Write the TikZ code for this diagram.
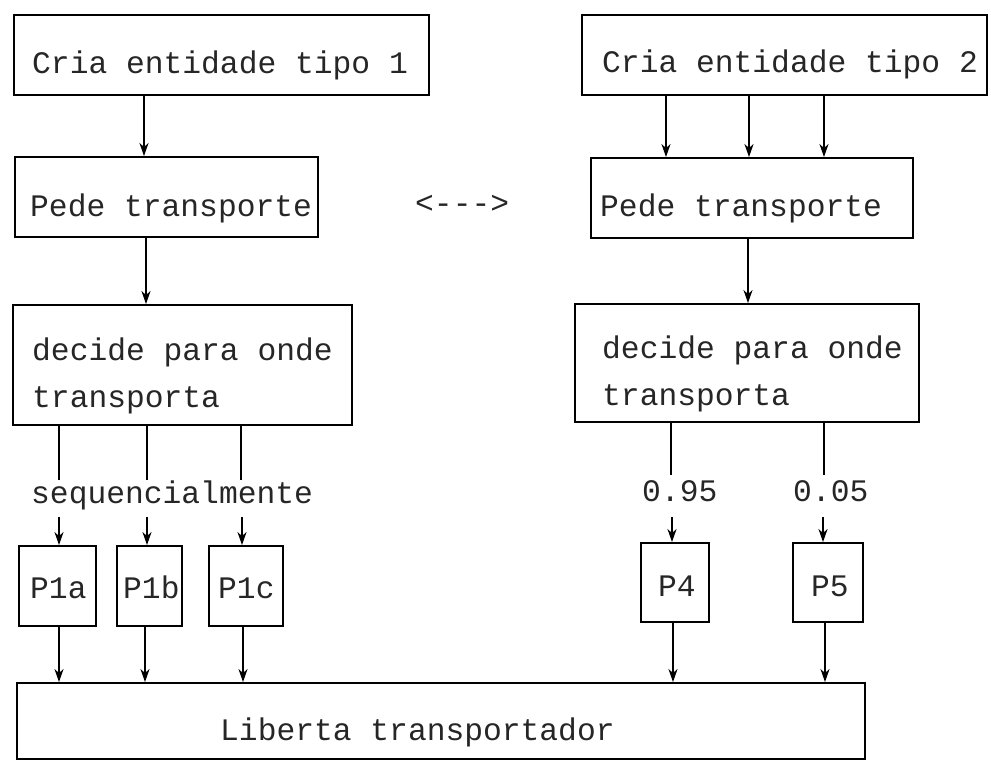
\documentclass[tikz,border=0pt]{standalone}
\usepackage{fontspec}
\newfontfamily\tw{Liberation Mono}
\usetikzlibrary{arrows.meta}
\begin{document}
\begin{tikzpicture}[x=1pt,y=-1pt,
  box/.style 2 args={draw, line width=1.9pt, rectangle, inner sep=0pt, minimum width=#1pt, minimum height=#2pt},
  txt/.style={anchor=base west, inner sep=0pt, font=\tw\fontsize{31.3}{36}\selectfont, text=black!85},
  arr/.style={line width=1.5pt, -{Stealth[length=13pt,width=9pt,inset=4pt]}},
  ln/.style={line width=1.5pt}]
\useasboundingbox (0,0) rectangle (991,761);
% boxes
\node[box={415}{80}] (b1) at (221.5,55) {};
\node[box={405}{80}] (b2) at (784.5,55) {};
\node[box={303}{80}] (pd1) at (166.5,197) {};
\node[box={322}{80}] (pd2) at (752,198) {};
\node[box={339}{120}] (d1) at (182.5,365) {};
\node[box={344}{118}] (d2) at (747,363) {};
\node[box={77}{80}] (p1a) at (57.5,586) {};
\node[box={65}{80}] (p1b) at (149.5,586) {};
\node[box={74}{80}] (p1c) at (246,586) {};
\node[box={68}{79}] (p4) at (675,582.5) {};
\node[box={70}{79}] (p5) at (828,582.5) {};
\node[box={848}{76}] (lib) at (441,721) {};
% texts
\node[txt] (t1) at (32,73) {Cria entidade tipo 1};
\node[txt] (t2) at (602,72) {Cria entidade tipo 2};
\node[txt] (t3) at (30,216) {Pede transporte};
\node[txt] (t4) at (600,216) {Pede transporte};
\node[txt] (t5) at (415,213) {<-{}-{}->};
\node[txt] (t6) at (32,360) {decide para onde};
\node[txt] (t7) at (32,407) {transporta};
\node[txt] (t8) at (602,358) {decide para onde};
\node[txt] (t9) at (602,405) {transporta};
\node[txt] (t10) at (31,503) {sequencialmente};
\node[txt] (t11) at (642,501) {0.95};
\node[txt] (t12) at (793,501) {0.05};
\node[txt] (t13) at (30,598) {P1a};
\node[txt] (t14) at (123,598) {P1b};
\node[txt] (t15) at (218,598) {P1c};
\node[txt] (t16) at (658,596) {P4};
\node[txt] (t17) at (811,596) {P5};
\node[txt] (t18) at (220,740) {Liberta transportador};
% column coordinates
\coordinate (xa) at (144,0);
\coordinate (xb) at (146,0);
\coordinate (xc1) at (666,0);
\coordinate (xc2) at (749,0);
\coordinate (xc3) at (824,0);
\coordinate (xd) at (748,0);
\coordinate (s1) at (59,480);
\coordinate (s2) at (147,480);
\coordinate (s3) at (241,480);
\coordinate (e1) at (59,517);
\coordinate (e2) at (147,517);
\coordinate (e3) at (242,517);
\coordinate (s4) at (671,475);
\coordinate (s5) at (824,475);
\coordinate (e4) at (672,517);
\coordinate (e5) at (823,517);
\coordinate (f1) at (59,0);
\coordinate (f2) at (145,0);
\coordinate (f3) at (243,0);
\coordinate (f4) at (673,0);
\coordinate (f5) at (825,0);
% connectors
\draw[arr] (b1.south -| xa) -- (pd1.north -| xa);
\draw[arr] (b2.south -| xc1) -- (pd2.north -| xc1);
\draw[arr] (b2.south -| xc2) -- (pd2.north -| xc2);
\draw[arr] (b2.south -| xc3) -- (pd2.north -| xc3);
\draw[arr] (pd1.south -| xb) -- (d1.north -| xb);
\draw[arr] (pd2.south -| xd) -- (d2.north -| xd);
\draw[ln] (d1.south -| s1) -- (s1);
\draw[ln] (d1.south -| s2) -- (s2);
\draw[ln] (d1.south -| s3) -- (s3);
\draw[arr] (e1) -- (p1a.north -| e1);
\draw[arr] (e2) -- (p1b.north -| e2);
\draw[arr] (e3) -- (p1c.north -| e3);
\draw[ln] (d2.south -| s4) -- (s4);
\draw[ln] (d2.south -| s5) -- (s5);
\draw[arr] (e4) -- (p4.north -| e4);
\draw[arr] (e5) -- (p5.north -| e5);
\draw[arr] (p1a.south -| f1) -- (lib.north -| f1);
\draw[arr] (p1b.south -| f2) -- (lib.north -| f2);
\draw[arr] (p1c.south -| f3) -- (lib.north -| f3);
\draw[arr] (p4.south -| f4) -- (lib.north -| f4);
\draw[arr] (p5.south -| f5) -- (lib.north -| f5);
\end{tikzpicture}
\end{document}
